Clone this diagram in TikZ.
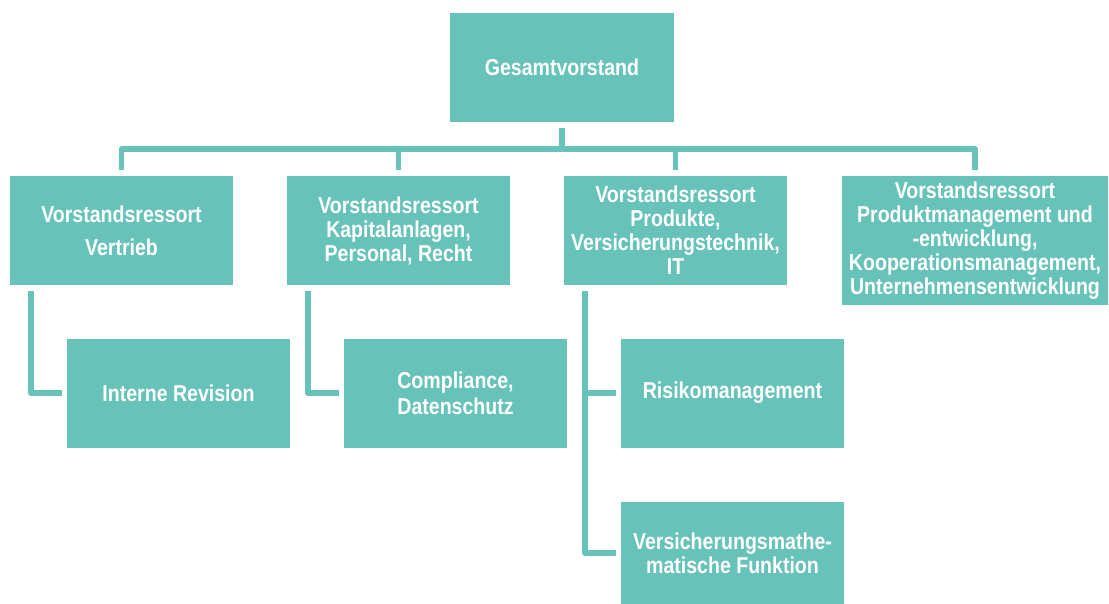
\documentclass[tikz,border=0pt]{standalone}
\usepackage{fontspec}
\setmainfont{Liberation Sans}[FakeStretch=0.85]
\usepackage{tikz}
\definecolor{orgteal}{RGB}{103,194,185}

\begin{document}
\begin{tikzpicture}[x=1pt, y=-1pt,
    box/.style={fill=orgteal, text=white, align=center, inner sep=0pt,
        font=\bfseries\fontsize{23}{24}\selectfont,
        minimum width=223pt, minimum height=109pt},
    link/.style={draw=orgteal, line width=5.5pt, line join=round, line cap=butt}]
    \useasboundingbox (0,0) rectangle (1109,604);

    % Draw the top box
    \node[box, minimum width=224pt] (gv) at (562,67.5) {Gesamtvorstand};

    % Draw the board divisions
    \node[box] (vt) at (121.5,230.5) {Vorstandsressort\\[9pt]Vertrieb};
    \node[box] (kp) at (398.5,230.5) {Vorstandsressort\\Kapitalanlagen,\\Personal, Recht};
    \node[box] (pr) at (675.5,230.5) {Vorstandsressort\\Produkte,\\Versicherungstechnik,\\IT};
    \node[box, minimum width=266pt, minimum height=129pt] (pm) at (975,240.5)
        {Vorstandsressort\\Produktmanagement und\\-entwicklung,\\Kooperationsmanagement,\\Unternehmensentwicklung};

    % Draw the functions below the divisions
    \node[box] (ir) at (178.5,393) {Interne Revision};
    \node[box] (cd) at (455.5,393) {Compliance,\\[2pt]Datenschutz};
    \node[box] (rk) at (732.5,393) {Risikomanagement};
    \node[box, minimum height=103pt] (vm) at (732.5,553) {Versicherungsmathe-\\matische Funktion};

    % Bus from the top box to the divisions
    \coordinate (bus) at (0,149);
    \draw[link] ([yshift=-6pt]gv.south) -- (gv.south |- bus);
    \draw[link] ([yshift=6pt]vt.north) |- (bus -| pm.north) -- ([yshift=6pt]pm.north);
    \draw[link] ([yshift=6pt]kp.north) -- (kp.north |- bus);
    \draw[link] ([yshift=6pt]pr.north) -- (pr.north |- bus);

    % Side lines to the functions
    \draw[link] ([xshift=21pt,yshift=-6pt]vt.south west) |- ([xshift=-5pt]ir.west);
    \draw[link] ([xshift=21pt,yshift=-6pt]kp.south west) |- ([xshift=-5pt]cd.west);
    \coordinate (prx) at ([xshift=21pt]pr.south west);
    \draw[link] ([xshift=21pt,yshift=-6pt]pr.south west) |- ([xshift=-5pt]vm.west);
    \draw[link] ([xshift=-5pt]rk.west) -- (rk.west -| prx);
\end{tikzpicture}
\end{document}
